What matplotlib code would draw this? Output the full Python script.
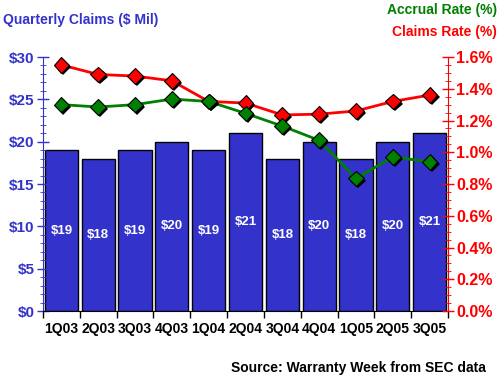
import numpy as np
import matplotlib.pyplot as plt
import matplotlib.patheffects as pe
from matplotlib.ticker import MultipleLocator, FuncFormatter

plt.rcParams['font.family'] = ['Liberation Sans', 'DejaVu Sans']

# data
quarters = ["1Q03", "2Q03", "3Q03", "4Q03", "1Q04", "2Q04", "3Q04", "4Q04", "1Q05", "2Q05", "3Q05"]
claims = [19, 18, 19, 20, 19, 21, 18, 20, 18, 20, 21]
claims_rate = [1.55, 1.49, 1.48, 1.45, 1.32, 1.31, 1.235, 1.24, 1.26, 1.32, 1.36]
accrual_rate = [1.30, 1.285, 1.30, 1.335, 1.32, 1.245, 1.165, 1.075, 0.835, 0.97, 0.94]

blue = "#3333CC"
red = "#FF0000"
green = "#008000"

fig = plt.figure(figsize=(5, 3.79), dpi=100)
ax = fig.add_axes([0.086, 0.1794, 0.81, 0.6702])
x = np.arange(len(quarters))

ax.bar(x, claims, width=0.9, color=blue, edgecolor="black", linewidth=1)
for xi, v in zip(x, claims):
    ax.text(xi, v / 2, f"${v}", color="white", ha="center", va="center",
            fontsize=9.5, fontweight="bold")

ax.set_xlim(-0.5, len(quarters) - 0.5)
ax.set_ylim(0, 30)
ax.yaxis.set_major_locator(MultipleLocator(5))
ax.yaxis.set_minor_locator(MultipleLocator(1))
ax.yaxis.set_major_formatter(FuncFormatter(lambda v, p: f"${v:.0f}"))
ax.tick_params(axis="y", colors=blue, labelsize=11, length=8, width=1, direction="inout", pad=2)
ax.tick_params(axis="y", which="minor", colors=blue, length=4, direction="inout")
ax.set_xticks(x)
ax.set_xticklabels(quarters, fontsize=10)
ax.tick_params(axis="x", length=0, pad=8)
ax.set_xticks(np.arange(len(quarters) + 1) - 0.5, minor=True)
ax.tick_params(axis="x", which="minor", length=5, width=1, color="black")
for lab in ax.get_yticklabels():
    lab.set_fontweight("bold")
for lab in ax.get_xticklabels():
    lab.set_fontweight("bold")
ax.spines["top"].set_visible(False)
ax.spines["right"].set_visible(False)
ax.spines["left"].set_color(blue)
ax.spines["bottom"].set_color("black")

ax2 = ax.twinx()
ax2.set_ylim(0, 1.6)
ax2.yaxis.set_major_locator(MultipleLocator(0.2))
ax2.yaxis.set_minor_locator(MultipleLocator(0.05))
ax2.yaxis.set_major_formatter(FuncFormatter(lambda v, p: f"{v:.1f}%"))
ax2.tick_params(axis="y", colors=red, labelsize=11.5, length=8, width=1, direction="inout", pad=2)
ax2.tick_params(axis="y", which="minor", colors=red, length=4, direction="inout")
for lab in ax2.get_yticklabels():
    lab.set_fontweight("bold")
for s in ["top", "left", "bottom"]:
    ax2.spines[s].set_visible(False)
ax2.spines["right"].set_color(red)

shadow = [pe.SimplePatchShadow(offset=(1.5, -1.5), shadow_rgbFace="black", alpha=1), pe.Normal()]
ax2.plot(x, claims_rate, color=red, lw=2)
ax2.plot(x, accrual_rate, color=green, lw=2)
ax2.plot(x, claims_rate, ls="none", marker="D", ms=8, mfc=red, mec="black", mew=0.8,
         path_effects=shadow)
ax2.plot(x, accrual_rate, ls="none", marker="D", ms=8, mfc=green, mec="black", mew=0.8,
         path_effects=shadow)

fig.text(0.006, 0.947, "Quarterly Claims ($ Mil)", color=blue, fontsize=10,
         fontweight="bold", ha="left", va="center")
fig.text(0.994, 0.974, "Accrual Rate (%)", color=green, fontsize=10,
         fontweight="bold", ha="right", va="center")
fig.text(0.994, 0.916, "Claims Rate (%)", color=red, fontsize=10,
         fontweight="bold", ha="right", va="center")
fig.text(0.972, 0.03, "Source: Warranty Week from SEC data", color="black", fontsize=10,
         fontweight="bold", ha="right", va="center")

fig.savefig("out.png", dpi=100)
